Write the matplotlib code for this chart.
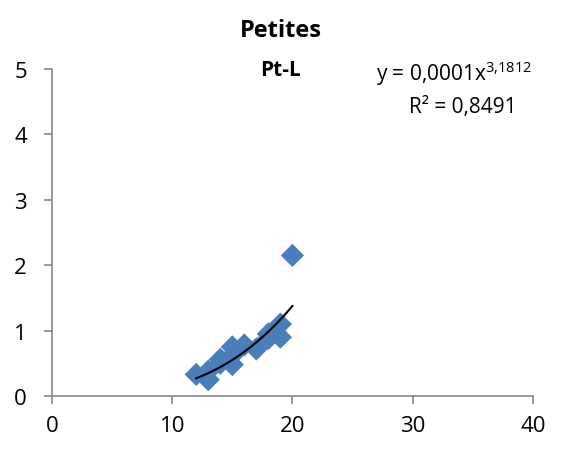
import numpy as np
import matplotlib.pyplot as plt

# measured lengths (x) vs. mass (y) for the small ones
x_vals = [12, 13, 13, 14, 14, 15, 15, 15, 16, 17, 18, 18, 19, 19, 20]
y_vals = [0.33, 0.25, 0.38, 0.50, 0.56, 0.75, 0.48, 0.62, 0.78, 0.72, 0.95, 0.88, 1.10, 0.90, 2.15]

# power trend line y = a * x^b
coef_a = 0.0001
coef_b = 3.1812
r2 = 0.8491

plt.rcParams['font.family'] = ['Open Sans', 'DejaVu Sans']
plt.rcParams['mathtext.fontset'] = 'custom'
plt.rcParams['mathtext.rm'] = 'Open Sans'
plt.rcParams['mathtext.it'] = 'Open Sans'

fig = plt.figure(figsize=(5.61, 4.52), dpi=100)
ax = fig.add_axes([0.0927, 0.1217, 0.857, 0.7233])

ax.scatter(x_vals, y_vals, marker='D', s=140, color='#4a7ebb', edgecolors='none', zorder=2)

xt = np.linspace(min(x_vals), max(x_vals), 100)
ax.plot(xt, coef_a * xt ** coef_b, color='black', lw=1.5, zorder=3)

ax.set_xlim(0, 40)
ax.set_ylim(0, 5)
ax.set_xticks([0, 10, 20, 30, 40])
ax.set_yticks([0, 1, 2, 3, 4, 5])

for side in ['top', 'right']:
    ax.spines[side].set_visible(False)
for side in ['left', 'bottom']:
    ax.spines[side].set_color('#888888')
    ax.spines[side].set_linewidth(1.2)
ax.tick_params(axis='both', colors='#888888', length=6, width=1.2, labelsize=16,
               labelcolor='black', direction='out')
ax.tick_params(axis='x', pad=8)
ax.tick_params(axis='y', pad=12)

fig.text(0.5, 0.932, 'Petites', ha='center', va='center', fontsize=17, fontweight='bold')
fig.text(0.5, 0.845, 'Pt-L', ha='center', va='center', fontsize=15, fontweight='bold')
fig.text(0.81, 0.838, 'y = 0,0001x$^{\\mathrm{3{,}1812}}$', ha='center', va='center', fontsize=15)
fig.text(0.825, 0.762, 'R² = 0,8491', ha='center', va='center', fontsize=15)

fig.savefig('out.png', dpi=100)
